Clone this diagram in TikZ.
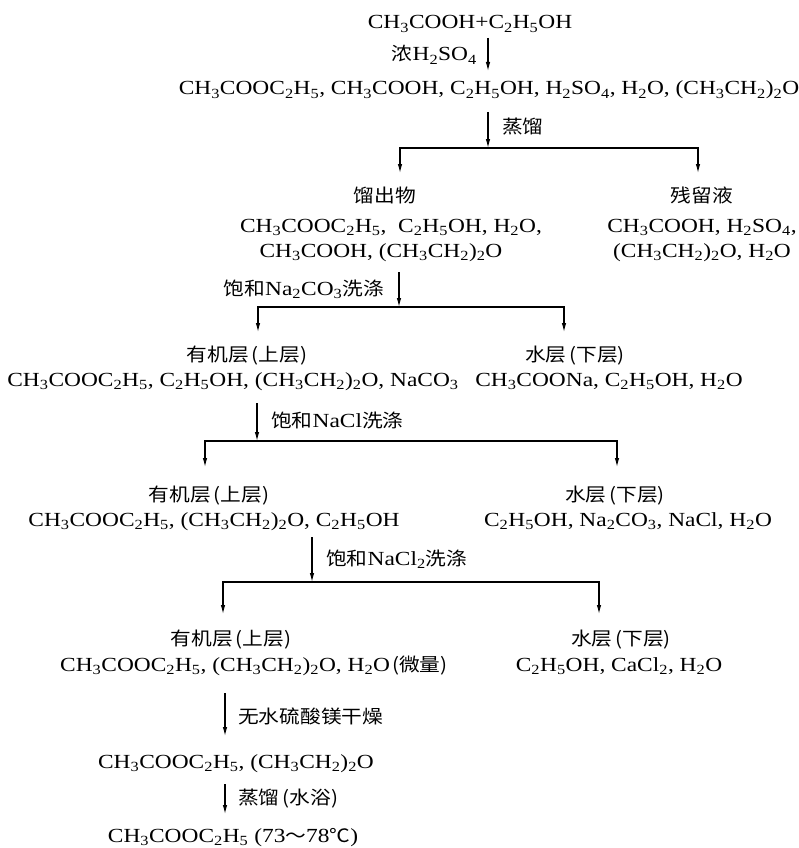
\documentclass[tikz,border=0pt]{standalone}
\usepackage{fontspec}
\setmainfont{Liberation Serif}[FakeStretch=1.17]
\newfontfamily\cjk{Noto Sans CJK SC}[FakeStretch=1.12]
\usetikzlibrary{arrows.meta}
\newcommand{\sbt}[1]{\textsubscript{#1}}
\newcommand{\EtAc}{CH\sbt{3}COOC\sbt{2}H\sbt{5}}
\newcommand{\HAc}{CH\sbt{3}COOH}
\newcommand{\EtOH}{C\sbt{2}H\sbt{5}OH}
\newcommand{\Ether}{(CH\sbt{3}CH\sbt{2})\sbt{2}O}
\newcommand{\Wat}{H\sbt{2}O}
\newcommand{\zh}[1]{{\cjk\fontsize{18.5}{22}\selectfont #1}}
\tikzset{
  fm/.style={font=\fontsize{20}{24}\selectfont, inner sep=0pt, anchor=base},
  zhs/.style={font=\cjk\fontsize{18.5}{22}\selectfont, inner sep=0pt, anchor=base},
  arr/.style={-{Latex[length=9pt,width=4.5pt]}, line width=1.1pt},
}
\begin{document}
\begin{tikzpicture}[x=1pt,y=-1pt]
\useasboundingbox (0,0) rectangle (798,848);
% texts
\node[fm] (r1) at (470,29) {\HAc+\EtOH};
\node[fm, anchor=base east] (l1) at (477,61) {\zh{浓}H\sbt{2}SO\sbt{4}};
\node[fm] (r2) at (489,95) {\EtAc, \HAc, \EtOH, H\sbt{2}SO\sbt{4}, \Wat, \Ether};
\node[zhs, anchor=base west] (l2) at (502,134) {蒸馏};
\node[zhs] (h1a) at (385,202) {馏出物};
\node[zhs] (h1b) at (702,202) {残留液};
\node[fm] (d1a) at (391,232) {\EtAc,\ \ \EtOH, \Wat,};
\node[fm] (d1b) at (381,257) {\HAc, \Ether};
\node[fm] (e1a) at (702,232) {\HAc, H\sbt{2}SO\sbt{4},};
\node[fm] (e1b) at (702,257) {\Ether, \Wat};
\node[fm, anchor=base east] (l3) at (384,295) {\zh{饱和}Na\sbt{2}CO\sbt{3}\zh{洗涤}};
\node[zhs] (h2a) at (247,361) {有机层\hspace{3pt}(上层)};
\node[zhs] (h2b) at (575,361) {水层\hspace{3pt}(下层)};
\node[fm] (f2a) at (233,386) {\EtAc, \EtOH, \Ether, NaCO\sbt{3}};
\node[fm] (f2b) at (609,386) {CH\sbt{3}COONa, \EtOH, \Wat};
\node[fm, anchor=base west] (l4) at (271,427) {\zh{饱和}NaCl\zh{洗涤}};
\node[zhs] (h3a) at (209,501) {有机层\hspace{3pt}(上层)};
\node[zhs] (h3b) at (615,501) {水层\hspace{3pt}(下层)};
\node[fm] (f3a) at (214,526) {\EtAc, \Ether, \EtOH};
\node[fm] (f3b) at (628,526) {\EtOH, Na\sbt{2}CO\sbt{3}, NaCl, \Wat};
\node[fm, anchor=base west] (l5) at (326,565) {\zh{饱和}NaCl\sbt{2}\zh{洗涤}};
\node[zhs] (h4a) at (231,645) {有机层\hspace{3pt}(上层)};
\node[zhs] (h4b) at (621,645) {水层\hspace{3pt}(下层)};
\node[fm, anchor=base west] (f4a) at (60,671) {\EtAc, \Ether, \Wat\zh{\hspace{2pt}(微量)}};
\node[fm] (f4b) at (619,671) {\EtOH, CaCl\sbt{2}, \Wat};
\node[zhs, anchor=base west] (l6) at (238,723) {无水硫酸镁干燥};
\node[fm] (f5) at (236,768) {\EtAc, \Ether};
\node[zhs, anchor=base west] (l7) at (238,804) {蒸馏\hspace{3pt}(水浴)};
\node[fm] (f6) at (233,842) {\EtAc\ (73\zh{～}78\zh{℃})};
% connector points
\coordinate (a1s) at (488,38);  \coordinate (a1e) at (488,71);
\coordinate (a2s) at (488,112); \coordinate (j1) at (488,148);
\coordinate (j1l) at (400,173); \coordinate (j1r) at (698,173);
\coordinate (a3s) at (399,272); \coordinate (j2) at (399,307);
\coordinate (j2l) at (258,332); \coordinate (j2r) at (564,332);
\coordinate (a4s) at (257,403); \coordinate (j3) at (257,441);
\coordinate (j3l) at (205,467); \coordinate (j3r) at (617,467);
\coordinate (a5s) at (312,537); \coordinate (j4) at (312,582);
\coordinate (j4l) at (223,614); \coordinate (j4r) at (599,614);
\coordinate (a6s) at (225,693); \coordinate (a6e) at (225,736);
\coordinate (a7s) at (225,784); \coordinate (a7e) at (225,814);
% connectors
\draw[arr] (a1s) -- (a1e);
\draw[arr] (a2s) -- (j1);
\draw[arr] (j1) -| (j1l);
\draw[arr] (j1) -| (j1r);
\draw[arr] (a3s) -- (j2);
\draw[arr] (j2) -| (j2l);
\draw[arr] (j2) -| (j2r);
\draw[arr] (a4s) -- (j3);
\draw[arr] (j3) -| (j3l);
\draw[arr] (j3) -| (j3r);
\draw[arr] (a5s) -- (j4);
\draw[arr] (j4) -| (j4l);
\draw[arr] (j4) -| (j4r);
\draw[arr] (a6s) -- (a6e);
\draw[arr] (a7s) -- (a7e);
\end{tikzpicture}
\end{document}
